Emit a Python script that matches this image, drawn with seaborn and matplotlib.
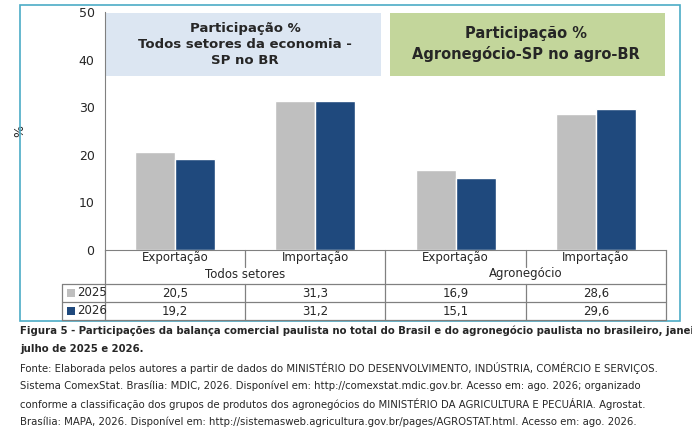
import matplotlib
matplotlib.use("Agg")
import matplotlib.pyplot as plt
import seaborn as sns
import pandas as pd
from matplotlib import transforms
from matplotlib.patches import Rectangle

categories = ["Exportação", "Importação", "Exportação ", "Importação "]
groups = ["Todos setores", "Agronegócio"]
years = ["2025", "2026"]
v2025 = [20.5, 31.3, 16.9, 28.6]
v2026 = [19.2, 31.2, 15.1, 29.6]
labels2025 = ["20,5", "31,3", "16,9", "28,6"]
labels2026 = ["19,2", "31,2", "15,1", "29,6"]
colors = {"2025": "#BFBFBF", "2026": "#1F497D"}

df = pd.DataFrame({
    "cat": categories * 2,
    "year": ["2025"] * 4 + ["2026"] * 4,
    "val": v2025 + v2026,
})

W, H = 692, 440
fig = plt.figure(figsize=(W / 100, H / 100), dpi=100)
sns.set_style("white")
plt.rcParams["font.family"] = ["DejaVu Sans"]

def fx(px): return px / W
def fy(py): return 1 - py / H

ax = fig.add_axes([fx(105), fy(250), fx(666) - fx(105), fy(12) - fy(250)])
sns.barplot(data=df, x="cat", y="val", hue="year", palette=colors, width=0.57,
            ax=ax, legend=False, saturation=1)
ax.set_xlim(-0.5, 3.5)
ax.set_ylim(0, 50)
ax.set_yticks(range(0, 51, 10))
ax.tick_params(axis="y", labelsize=9, length=4, color="#808080", direction="out")
ax.set_xticks([])
ax.set_xlabel("")
ax.set_ylabel("%", fontsize=9, rotation=90, labelpad=38)
for s in ["top", "right"]:
    ax.spines[s].set_visible(False)
for s in ["left", "bottom"]:
    ax.spines[s].set_color("#808080")

ax.add_patch(Rectangle((-0.49, 36.5), 1.96, 13.3, facecolor="#DCE6F2", edgecolor="none", zorder=0))
ax.add_patch(Rectangle((1.53, 36.5), 1.96, 13.3, facecolor="#C3D69B", edgecolor="none", zorder=0))
ax.text(0.5, 43.2, "Participação %\nTodos setores da economia -\nSP no BR", ha="center", va="center",
        fontsize=9.5, fontweight="bold", linespacing=1.3)
ax.text(2.5, 43.2, "Participação %\nAgronegócio-SP no agro-BR", ha="center", va="center",
        fontsize=10.5, fontweight="bold", linespacing=1.4)

fig.add_artist(Rectangle((fx(20), fy(321)), fx(680) - fx(20), fy(5) - fy(321),
                         transform=fig.transFigure, fill=False, edgecolor="#4BACC6", lw=1.2))

bt = transforms.blended_transform_factory(ax.transData, fig.transFigure)
lc = "#808080"
def hline(x0, x1, y):
    fig.add_artist(plt.Line2D([fx(x0), fx(x1)], [fy(y), fy(y)], color=lc, lw=0.9))
def vline(x, y0, y1):
    fig.add_artist(plt.Line2D([fx(x), fx(x)], [fy(y0), fy(y1)], color=lc, lw=0.9))

hline(62, 666, 284)
hline(62, 666, 302)
hline(62, 666, 320)
vline(62, 284, 320)
vline(105, 250, 320)
vline(666, 250, 320)
vline(385, 250, 320)
vline(245, 250, 267); vline(245, 284, 320)
vline(526, 250, 267); vline(526, 284, 320)

for i, c in enumerate(categories):
    fig.text(i, fy(258), c.strip(), transform=bt, ha="center", va="center", fontsize=8.5)
    fig.text(i, fy(293), labels2025[i], transform=bt, ha="center", va="center", fontsize=8.5)
    fig.text(i, fy(311), labels2026[i], transform=bt, ha="center", va="center", fontsize=8.5)
for g, xc in zip(groups, [0.5, 2.5]):
    fig.text(xc, fy(274), g, transform=bt, ha="center", va="center", fontsize=8.5)

for y, yr in zip([293, 311], years):
    fig.add_artist(Rectangle((fx(67), fy(y + 4)), fx(8), fy(y - 4) - fy(y + 4),
                             transform=fig.transFigure, facecolor=colors[yr], edgecolor="none"))
    fig.text(fx(77), fy(y), yr, ha="left", va="center", fontsize=8.5)

caption = [
    "Figura 5 - Participações da balança comercial paulista no total do Brasil e do agronegócio paulista no brasileiro, janeiro a",
    "julho de 2025 e 2026.",
    "Fonte: Elaborada pelos autores a partir de dados do MINISTÉRIO DO DESENVOLVIMENTO, INDÚSTRIA, COMÉRCIO E SERVIÇOS.",
    "Sistema ComexStat. Brasília: MDIC, 2026. Disponível em: http://comexstat.mdic.gov.br. Acesso em: ago. 2026; organizado",
    "conforme a classificação dos grupos de produtos dos agronegócios do MINISTÉRIO DA AGRICULTURA E PECUÁRIA. Agrostat.",
    "Brasília: MAPA, 2026. Disponível em: http://sistemasweb.agricultura.gov.br/pages/AGROSTAT.html. Acesso em: ago. 2026.",
]
ys = [331, 349, 368, 386, 404, 422]
for t, y in zip(caption, ys):
    fig.text(fx(20), fy(y), t, ha="left", va="center", fontsize=7.3,
             fontweight="bold" if t.startswith("Figura") or t.startswith("julho") else "normal")

fig.savefig("out.png", dpi=100)
